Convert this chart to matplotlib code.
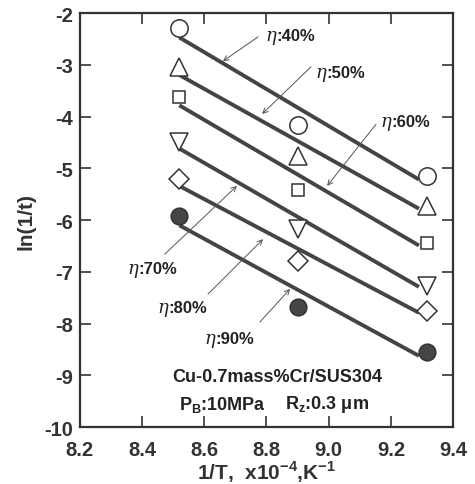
import numpy as np
import matplotlib
matplotlib.use("Agg")
from matplotlib import pyplot as plt

plt.rcParams['font.family'] = ['Liberation Sans', 'DejaVu Sans']
plt.rcParams['font.weight'] = 'bold'
plt.rcParams['axes.unicode_minus'] = False
plt.rcParams['mathtext.fontset'] = 'custom'
plt.rcParams['mathtext.rm'] = 'Liberation Sans:bold'
plt.rcParams['mathtext.bf'] = 'Liberation Sans:bold'

# 1/T (x10^-4 K^-1) and ln(1/t) for each bonding ratio
inv_T = [8.518, 8.90, 9.316]
eta40 = [-2.29, -4.16, -5.15]
eta50 = [-3.04, -4.76, -5.73]
eta60 = [-3.62, -5.42, -6.44]
eta70 = [-4.49, -6.17, -7.27]
eta80 = [-5.21, -6.79, -7.76]
eta90 = [-5.92, -7.68, -8.55]
labels = ['40%', '50%', '60%', '70%', '80%', '90%']
markers = ['o', '^', 's', 'v', 'D', 'o']
fills = ['white', 'white', 'white', 'white', 'white', '#454545']
sizes = [12.5, 12.5, 9, 12.5, 10, 12]
fit_range = [8.52, 9.29]

series = [eta40, eta50, eta60, eta70, eta80, eta90]

fig = plt.figure(figsize=(4.75, 4.85), dpi=100)
ax = fig.add_axes([0.168, 0.1175, 0.786, 0.8535])

gray = '#444444'
for ys, m, fc, ms in zip(series, markers, fills, sizes):
    k, b = np.polyfit(inv_T, ys, 1)
    xf = np.array(fit_range)
    ax.plot(xf, k * xf + b, color=gray, lw=2.8, solid_capstyle='butt', zorder=2)
    ax.plot(inv_T, ys, linestyle='none', marker=m, ms=ms, mfc=fc,
            mec='#333333', mew=1.1, zorder=3)

# leader arrows: tail, tip
arrows = [
    ((8.773, -2.46), (8.660, -2.93)),
    ((8.943, -3.04), (8.786, -3.95)),
    ((9.152, -4.15), (8.995, -5.34)),
    ((8.473, -6.66), (8.705, -5.34)),
    ((8.612, -7.43), (8.789, -6.37)),
    ((8.779, -7.97), (8.876, -7.33)),
]
for tail, tip in arrows:
    ax.annotate('', xy=tip, xytext=tail,
                arrowprops=dict(arrowstyle='->', color='#555555', lw=0.7,
                                shrinkA=0, shrinkB=0, mutation_scale=9))

# label baseline positions (left edge)
label_pos = [(8.795, -2.53), (8.956, -3.24), (9.165, -4.19),
             (8.354, -7.03), (8.448, -7.78), (8.599, -8.38)]
for lab, (tx, ty) in zip(labels, label_pos):
    ax.text(tx, ty, 'η', fontsize=13, family='DejaVu Serif', style='italic',
            fontweight='normal', ha='left', va='baseline', color='#222222')
    ax.annotate(':' + lab, xy=(tx, ty), xytext=(8, 0), textcoords='offset points',
                fontsize=12, fontweight='bold', ha='left', va='baseline',
                color='#222222')

ax.text(8.835, -9.03, 'Cu-0.7mass%Cr/SUS304', fontsize=13, fontweight='bold',
        ha='center', va='center', color='#222222')
ax.text(8.66, -9.55, r'P$_\mathrm{B}$:10MPa', fontsize=13, fontweight='bold',
        ha='center', va='center', color='#222222')
ax.text(8.995, -9.55, r'R$_\mathrm{z}$:0.3 μm', fontsize=13, fontweight='bold',
        ha='center', va='center', color='#222222')

ax.set_xlim(8.2, 9.4)
ax.set_ylim(-10, -2)
ax.set_xticks([8.2, 8.4, 8.6, 8.8, 9.0, 9.2, 9.4])
ax.set_xticklabels(['8.2', '8.4', '8.6', '8.8', '9.0', '9.2', '9.4'])
ax.set_yticks(range(-10, -1))
ax.tick_params(direction='in', length=8, width=1.2, top=True, right=True,
               labelsize=14.5, colors='#333333', labelcolor='#333333')
ax.tick_params(axis='x', pad=9)
ax.tick_params(axis='y', pad=5)
for s in ax.spines.values():
    s.set_linewidth(1.6)
    s.set_color('#333333')

ax.set_ylabel('ln(1/t)', fontsize=15, fontweight='bold', color='#333333', labelpad=6)
ax.set_xlabel(r'1/T,  x10$^\mathrm{-4}$,K$^\mathrm{-1}$', fontsize=15,
              fontweight='bold', color='#333333', labelpad=0)

plt.savefig('out.png', dpi=100)
